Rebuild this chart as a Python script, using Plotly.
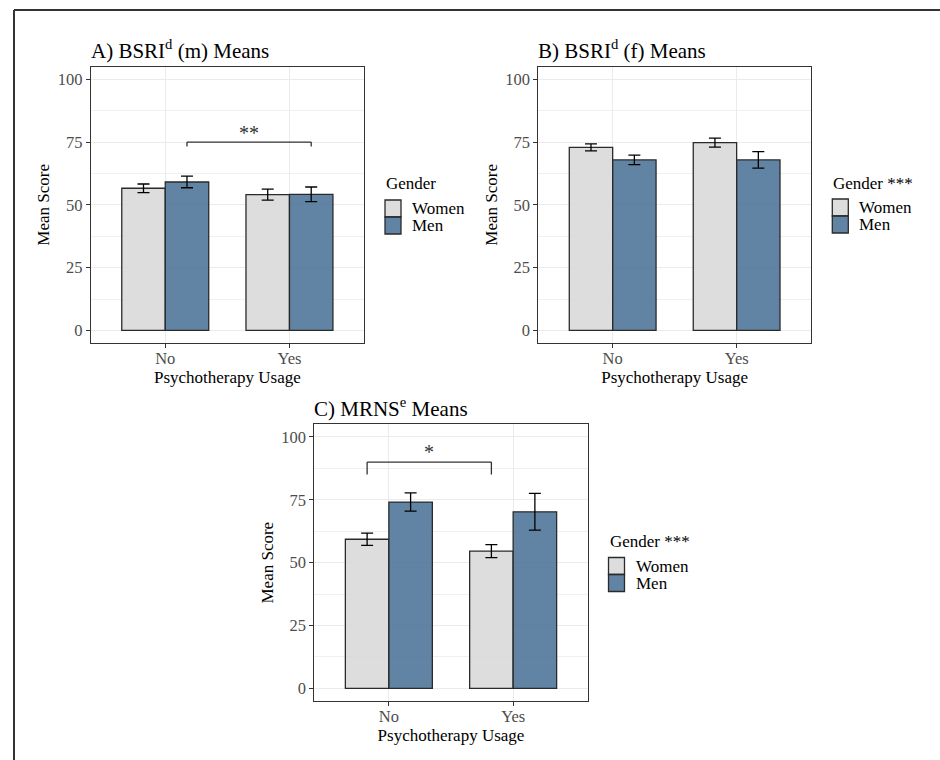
import plotly.graph_objects as go

W, H = 940, 760

# ---------------- data ----------------
categories = ["No", "Yes"]
groups = ["Women", "Men"]

a_women = [56.6, 54.1]
a_women_err = [1.7, 2.2]
a_men = [59.1, 54.2]
a_men_err = [2.3, 2.9]

b_women = [72.9, 74.8]
b_women_err = [1.4, 1.8]
b_men = [67.9, 67.9]
b_men_err = [1.9, 3.3]

c_women = [59.3, 54.6]
c_women_err = [2.4, 2.6]
c_men = [74.1, 70.2]
c_men_err = [3.6, 7.3]

panel_titles = ["A) BSRI<sup>d</sup> (m) Means",
                "B) BSRI<sup>d</sup> (f) Means",
                "C) MRNS<sup>e</sup> Means"]
legend_titles = ["Gender", "Gender ***", "Gender ***"]
y_ticks = [0, 25, 50, 75, 100]
y_minor = [12.5, 37.5, 62.5, 87.5]
x_title = "Psychotherapy Usage"
y_title = "Mean Score"

# significance brackets: (panel index, bar group, line level, tip level, label, label level)
brackets = [
    (0, "Men", 75.0, 73.2, "**", 78.8),
    (2, "Women", 90.0, 85.0, "*", 94.0),
]

# ---------------- style ----------------
FONT = "Liberation Serif"
fill = {"Women": "rgba(216,216,216,0.87)", "Men": "rgba(70,110,148,0.85)"}
BARGAP = 0.3

# panel boxes in pixels (left, top, right, bottom)
boxes = [(90.7, 66.7, 364.0, 343.0),
         (538.3, 66.7, 811.0, 343.0),
         (314.3, 424.3, 587.7, 701.0)]
# legend anchors (left x, title centre y)
leg_anchor = [(385.0, 184.0), (832.3, 183.0), (608.5, 541.5)]


def px(x):
    return x / W


def py(y):
    return 1 - y / H


panels = [
    (a_women, a_women_err, a_men, a_men_err),
    (b_women, b_women_err, b_men, b_men_err),
    (c_women, c_women_err, c_men, c_men_err),
]

fig = go.Figure()
layout = dict(
    width=W, height=H,
    margin=dict(l=0, r=0, t=0, b=0),
    paper_bgcolor="white", plot_bgcolor="white",
    barmode="group", bargap=BARGAP, bargroupgap=0,
    showlegend=False,
    font=dict(family=FONT, color="black"),
)
shapes = []
annotations = []

for i, (wv, we, mv, me) in enumerate(panels):
    sfx = "" if i == 0 else str(i + 1)
    xa, ya = "x" + sfx, "y" + sfx
    for g, vals, errs in (("Women", wv, we), ("Men", mv, me)):
        fig.add_trace(go.Bar(
            x=categories, y=vals, name=g, xaxis=xa, yaxis=ya,
            marker=dict(color=fill[g], line=dict(color="#2a2a2a", width=1.3)),
            error_y=dict(type="data", array=errs, visible=True,
                         color="black", thickness=1.3, width=6),
        ))
    l, t, r, b = boxes[i]
    axis_common = dict(
        showline=True, mirror=True, linecolor="#333333", linewidth=1,
        ticks="outside", ticklen=4, tickwidth=1, tickcolor="#333333",
        tickfont=dict(family=FONT, size=16.5, color="#4D4D4D"),
        showgrid=True, gridcolor="#EBEBEB", gridwidth=1.2,
        zeroline=False,
    )
    layout["xaxis" + sfx] = dict(
        axis_common, domain=[px(l), px(r)], anchor=ya,
        type="category", range=[-0.6, 1.6], ticklabelstandoff=-4,
        title=dict(text=x_title, font=dict(family=FONT, size=17, color="black"), standoff=0),
    )
    layout["yaxis" + sfx] = dict(
        axis_common, domain=[py(b), py(t)], anchor=xa,
        range=[-5, 105], tickvals=y_ticks,
        minor=dict(tickvals=y_minor, showgrid=True, gridcolor="#F0F0F0", gridwidth=1, ticks=""),
        title=dict(text=y_title, font=dict(family=FONT, size=17, color="black"), standoff=3),
    )
    # panel title
    annotations.append(dict(
        text=panel_titles[i], xref="paper", yref="paper",
        x=px(l - 2), y=py(t - 17), xanchor="left", yanchor="middle",
        showarrow=False, font=dict(family=FONT, size=21, color="black"),
    ))
    # legend (drawn by hand to mimic ggplot keys)
    lx, ly = leg_anchor[i]
    annotations.append(dict(
        text=legend_titles[i], xref="paper", yref="paper",
        x=px(lx - 1), y=py(ly), xanchor="left", yanchor="middle",
        showarrow=False, font=dict(family=FONT, size=17, color="black"),
    ))
    for k, g in enumerate(groups):
        ky0 = ly + 16 + 17 * k
        shapes.append(dict(
            type="rect", xref="paper", yref="paper",
            x0=px(lx), x1=px(lx + 16), y0=py(ky0), y1=py(ky0 + 17),
            fillcolor=fill[g], line=dict(color="#2a2a2a", width=1.3),
        ))
        annotations.append(dict(
            text=g, xref="paper", yref="paper",
            x=px(lx + 25), y=py(ky0 + 8.5), xanchor="left", yanchor="middle",
            showarrow=False, font=dict(family=FONT, size=17, color="black"),
        ))

# significance brackets
half = (1 - BARGAP) / len(groups) / 2
for (pi, grp, lvl, tip, lab, laby) in brackets:
    sfx = "" if pi == 0 else str(pi + 1)
    off = -half if grp == "Women" else half
    x0, x1 = 0 + off, 1 + off
    xr, yr = "x" + sfx, "y" + sfx
    for (ax0, ay0, ax1, ay1) in ((x0, tip, x0, lvl), (x0, lvl, x1, lvl), (x1, lvl, x1, tip)):
        shapes.append(dict(type="line", xref=xr, yref=yr, x0=ax0, y0=ay0, x1=ax1, y1=ay1,
                           line=dict(color="#333333", width=1.3)))
    annotations.append(dict(
        text=lab, xref=xr, yref=yr, x=(x0 + x1) / 2, y=laby,
        xanchor="center", yanchor="middle", showarrow=False,
        font=dict(family=FONT, size=20, color="#333333"),
    ))

# outer frame (top and left edges visible)
shapes.append(dict(type="line", xref="paper", yref="paper", x0=px(14), y0=py(10), x1=1, y1=py(10),
                   line=dict(color="#333333", width=2)))
shapes.append(dict(type="line", xref="paper", yref="paper", x0=px(14), y0=py(10), x1=px(14), y1=0,
                   line=dict(color="#333333", width=2)))

layout["shapes"] = shapes
layout["annotations"] = annotations
fig.update_layout(**layout)
fig.write_html(
    "out.html",
    config={"displayModeBar": False},
    post_script="document.body.style.margin='0';document.body.style.overflow='hidden';",
)
